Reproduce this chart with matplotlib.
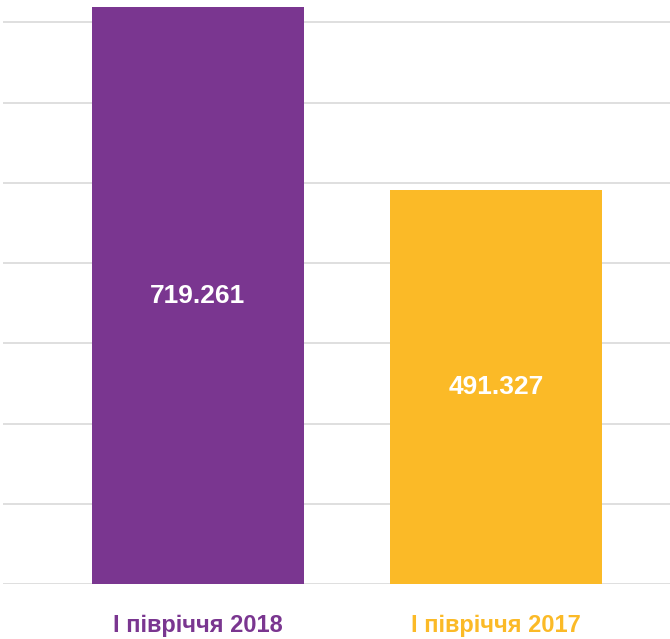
import matplotlib.pyplot as plt

categories = ["І півріччя 2018", "І півріччя 2017"]
values = [719.261, 491.327]
value_labels = ["719.261", "491.327"]
colors = ["#7A3690", "#FBBA27"]

plt.rcParams['font.family'] = ['Liberation Sans', 'DejaVu Sans']

fig = plt.figure(figsize=(6.7, 6.39), dpi=100)
ax = fig.add_axes([3/670, (639-584)/639, 667/670, 584/639])

x = [0, 1]
ax.bar(x, values, width=0.71, color=colors, zorder=3)

for xi, v, lab in zip(x, values, value_labels):
    ax.text(xi, v/2, lab, ha='center', va='center', color='white',
            fontsize=19, fontweight='bold', zorder=4)

ax.set_xlim(-0.654, 1.584)
ax.set_ylim(0, 728)
ax.set_yticks(range(0, 701, 100))
ax.yaxis.grid(True, color='#D9D9D9', linewidth=1.2, zorder=0)
ax.set_yticklabels([])
ax.tick_params(left=False, bottom=False)
for s in ax.spines.values():
    s.set_visible(False)

ax.set_xticks(x)
ax.set_xticklabels(categories, fontsize=17, fontweight='bold')
for t, c in zip(ax.get_xticklabels(), colors):
    t.set_color(c)
ax.tick_params(axis='x', pad=18)

fig.savefig("out.png", dpi=100)
